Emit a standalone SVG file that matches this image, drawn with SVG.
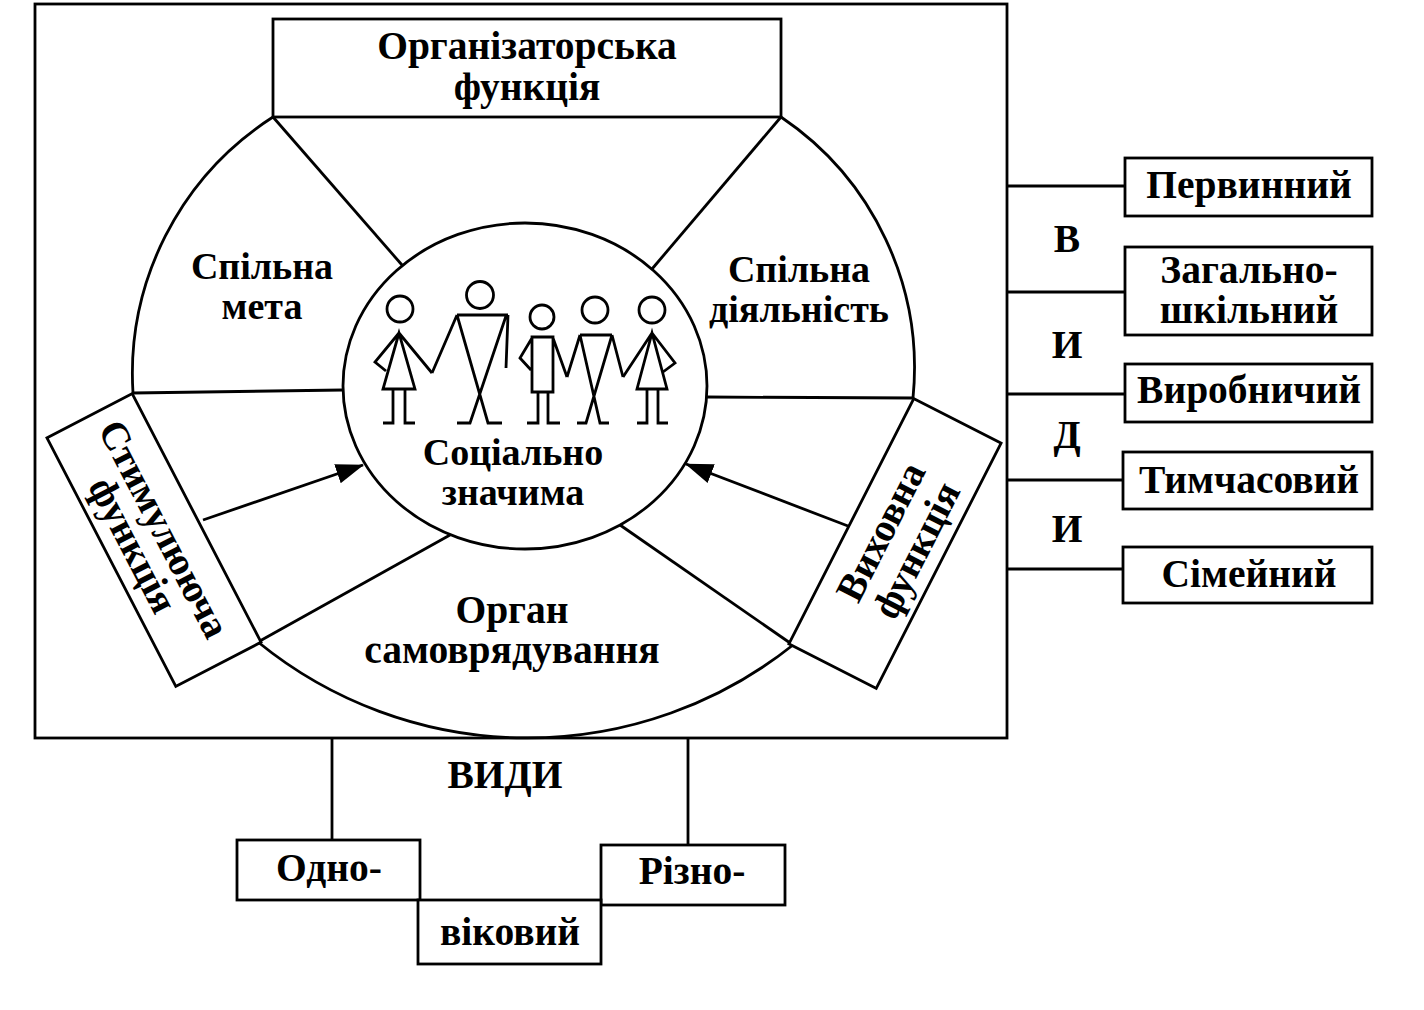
<svg xmlns="http://www.w3.org/2000/svg" width="1424" height="1010" viewBox="0 0 1424 1010">
<style>
.ln{fill:none;stroke:#000;stroke-width:2.8}
.bx{fill:#fff;stroke:#000;stroke-width:2.8}
.fig{fill:none;stroke:#000;stroke-width:2.8;stroke-linejoin:miter}
text{font-family:"Liberation Serif","DejaVu Serif",serif;font-weight:bold;font-size:39.5px;fill:#000;text-anchor:middle}
.sm{font-size:38px}
</style>
<defs>
<marker id="ah" viewBox="0 0 28 20" refX="27" refY="10" markerWidth="28" markerHeight="20" markerUnits="userSpaceOnUse" orient="auto">
<path d="M0,0 L28,10 L0,20 Z" fill="#000"/>
</marker>
</defs>
<rect width="1424" height="1010" fill="#fff"/>

<g id="frame">
<rect class="ln" x="35" y="4" width="972" height="734" stroke-width="3.2"/>
</g>

<g id="connectors">
<path class="ln" d="M273,117 A305,305 0 0 0 133,393"/>
<path class="ln" d="M781,117 A303,303 0 0 1 913,398"/>
<path class="ln" d="M258,642 A426,426 0 0 0 793,645"/>
<path class="ln" d="M273,117 L402,265"/>
<path class="ln" d="M781,117 L652,269"/>
<path class="ln" d="M133,393 L343,390"/>
<path class="ln" d="M707,397 L913,398"/>
<path class="ln" d="M258,642 L450,535"/>
<path class="ln" d="M793,645 L620,525"/>
<path class="ln" d="M203,520 L363,465" marker-end="url(#ah)"/>
<path class="ln" d="M848,526 L686,464" marker-end="url(#ah)"/>
<path class="ln" d="M1007,186 H1125"/>
<path class="ln" d="M1007,292 H1125"/>
<path class="ln" d="M1007,394 H1125"/>
<path class="ln" d="M1007,480 H1123"/>
<path class="ln" d="M1007,569 H1123"/>
<path class="ln" d="M332,738 V840"/>
<path class="ln" d="M688,738 V845"/>
</g>

<g id="org-fn">
<rect class="bx" x="273" y="19" width="508" height="98"/>
<text x="527" y="59">Організаторська</text>
<text x="527" y="100">функція</text>
</g>

<g id="center">
<ellipse class="ln" cx="525" cy="386" rx="182" ry="163"/>
<text class="sm" x="513" y="465">Соціально</text>
<text class="sm" x="513" y="505">значима</text>
</g>

<g id="people">
<circle class="fig" cx="400" cy="309" r="13"/>
<path class="fig" d="M399,333 L383,389 L415,389 Z M399,333 L375,362 L386,371 M399,333 L432,373 M393,389 V423 H383 M405,389 V423 H415"/>
<circle class="fig" cx="480" cy="295" r="13.5"/>
<path class="fig" d="M457,315 H508 M457,315 L488,423 H502 M506,316 L470,423 H457 M457,315 L432,373 M508,315 L506,368"/>
<circle class="fig" cx="542" cy="317" r="12"/>
<path class="fig" d="M532,337 H553 V392 H532 Z M532,338 L520,358 L531,370 M553,338 L567,377 M538,392 V423 H527 M548,392 V423 H560"/>
<circle class="fig" cx="595" cy="310" r="13"/>
<path class="fig" d="M580,335 H612 M580,335 L567,377 M612,335 L623,377 M580,335 L600,423 H609 M612,335 L586,423 H577"/>
<circle class="fig" cx="652" cy="310" r="13"/>
<path class="fig" d="M652,333 L637,389 L667,389 Z M652,333 L623,377 M652,333 L675,363 L663,372 M647,389 V423 H637 M658,389 V423 H668"/>
</g>

<g id="goal">
<text class="sm" x="262" y="279">Спільна</text>
<text class="sm" x="262" y="319">мета</text>
</g>

<g id="activity">
<text class="sm" x="799" y="282">Спільна</text>
<text class="sm" x="799" y="322">діяльність</text>
</g>

<g id="self-gov">
<text x="512" y="623">Орган</text>
<text x="512" y="663">самоврядування</text>
</g>

<g id="stim-fn" transform="translate(154,540) rotate(62.6)">
<rect class="bx" x="-140" y="-48" width="280" height="96"/>
<text x="-5" y="-1">Стимулююча</text>
<text x="-5" y="34">функція</text>
</g>

<g id="edu-fn" transform="translate(895,543.5) rotate(-63)">
<rect class="bx" x="-137.5" y="-49" width="275" height="98"/>
<text x="4" y="-5">Виховна</text>
<text x="4" y="35">функція</text>
</g>

<g id="types-right">
<text x="1067" y="252" font-size="37">В</text>
<text x="1067" y="358" font-size="37">И</text>
<text x="1067" y="448" font-size="37">Д</text>
<text x="1067" y="542" font-size="37">И</text>
</g>
<g id="t-primary"><rect class="bx" x="1125" y="158" width="247" height="58"/><text x="1249" y="198">Первинний</text></g>
<g id="t-school"><rect class="bx" x="1125" y="247" width="247" height="88"/><text x="1249" y="283">Загально-</text><text x="1249" y="323">шкільний</text></g>
<g id="t-prod"><rect class="bx" x="1125" y="364" width="247" height="58"/><text x="1249" y="403">Виробничий</text></g>
<g id="t-temp"><rect class="bx" x="1123" y="452" width="249" height="57"/><text x="1249" y="493">Тимчасовий</text></g>
<g id="t-family"><rect class="bx" x="1123" y="547" width="249" height="56"/><text x="1249" y="587">Сімейний</text></g>

<g id="types-bottom"><text x="505" y="788">ВИДИ</text></g>
<g id="t-same"><rect class="bx" x="237" y="840" width="183" height="60"/><text x="329" y="881">Одно-</text></g>
<g id="t-diff"><rect class="bx" x="601" y="845" width="184" height="60"/><text x="692" y="884">Різно-</text></g>
<g id="t-age"><rect class="bx" x="418" y="900" width="183" height="64"/><text x="510" y="945">віковий</text></g>
</svg>
